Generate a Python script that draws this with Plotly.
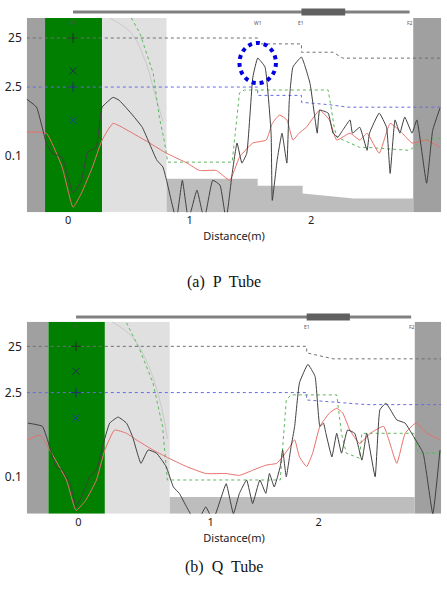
import plotly.graph_objects as go

# ---------------- Panel (a) P Tube ----------------
a_black_x = [-0.35,-0.26,-0.18,-0.13,-0.05,0.04,0.11,0.16,0.23,0.28,0.37,0.42,0.53,0.61,0.73,0.78,0.81,0.89,0.94,0.99,1.06,1.12,1.19,1.25,1.30,1.35,1.39,1.43,1.47,1.52,1.56,1.62,1.67,1.68,1.72,1.76,1.80,1.82,1.85,1.92,1.99,2.05,2.07,2.14,2.18,2.22,2.26,2.32,2.34,2.40,2.46,2.48,2.56,2.62,2.65,2.69,2.73,2.77,2.83,2.87,2.95,3.00,3.06]
a_black_y = [0.17,-0.01,-0.74,-0.95,-1.03,-1.76,-1.50,-0.93,-0.83,-0.01,0.19,0.13,-0.17,-0.42,-1.09,-1.23,-1.50,-2.3,-1.50,-2.3,-1.70,-2.3,-1.50,-1.60,-2.3,-1.36,-0.74,-1.15,-0.95,0.60,0.99,0.81,-0.54,-1.91,-1.09,-0.54,-1.15,0.13,0.81,1.01,0.48,-0.54,-0.07,-0.13,-0.54,-0.62,-0.48,-0.27,-0.54,-0.42,-0.89,-0.54,-0.13,-0.42,-1.36,-0.27,-0.54,-0.21,-0.54,-0.27,-1.56,-0.48,-0.03]
a_red_x = [-0.35,-0.18,-0.05,0.04,0.11,0.20,0.28,0.37,0.53,0.67,0.81,0.98,1.08,1.22,1.33,1.41,1.52,1.63,1.68,1.74,1.80,1.85,1.90,1.96,2.07,2.15,2.21,2.32,2.40,2.46,2.56,2.65,2.75,2.83,2.95,3.06]
a_red_y = [-0.52,-0.54,-1.23,-2.05,-1.76,-1.23,-0.68,-0.34,-0.54,-0.74,-0.95,-1.15,-1.30,-1.30,-1.50,-1.03,-0.74,-0.68,-0.34,-0.17,-0.27,-0.68,-0.54,-0.42,-0.07,-0.27,-0.68,-0.54,-0.68,-0.54,-0.95,-0.34,-0.54,-0.74,-0.68,-0.83]
a_green_x = [0.52,0.59,0.70,0.75,0.79,0.82,1.35,1.41,1.45,2.14,2.19,2.21,2.40,2.46,2.81,2.92,3.07]
a_green_y = [1.81,1.50,0.68,-0.21,-0.68,-1.13,-1.13,0.28,0.34,0.34,-0.42,-0.62,-0.83,-0.83,-0.89,-0.68,-0.64]
a_gray_x = [-0.34,1.56,1.56,1.92,1.92,2.18,2.26,3.07]
a_gray_y = [1.40,1.40,1.28,1.28,1.11,1.11,0.99,0.99]
a_blue_x = [-0.34,1.56,1.56,1.92,1.92,2.15,2.30,3.07]
a_blue_y = [0.40,0.40,0.23,0.23,0.09,0.04,-0.01,-0.01]
a_arc_x = [0.34,0.52,0.64,0.72,0.78]
a_arc_y = [1.81,1.50,0.90,0.20,-0.30]
a_floor_x = [0.81,1.56,1.56,1.93,1.93,2.35,2.84]
a_floor_top = [-1.47,-1.47,-1.61,-1.61,-1.77,-1.87,-1.87]
a_marker_y = [1.40,0.73,0.40,-0.28]
a_zones = [-0.34,-0.19,0.28,0.81,2.84,3.07]
a_range = [-2.15,1.81]
a_xrange = [-0.34,3.07]
a_ticks = [0,1,2]
a_bar = [0.04,2.81,1.92,2.28]
a_labels = [("P1",0.04),("W1",1.56),("E1",1.92),("F2",2.81)]

# ---------------- Panel (b) Q Tube ----------------
b_black_x = [-0.42,-0.30,-0.24,-0.19,-0.13,-0.06,-0.02,0.01,0.05,0.09,0.15,0.20,0.26,0.33,0.40,0.45,0.52,0.58,0.65,0.73,0.79,0.84,0.90,0.95,1.01,1.06,1.12,1.18,1.23,1.29,1.34,1.40,1.45,1.51,1.56,1.59,1.63,1.68,1.70,1.73,1.77,1.80,1.84,1.91,1.97,2.01,2.04,2.06,2.11,2.15,2.19,2.24,2.30,2.36,2.40,2.47,2.51,2.56,2.65,2.72,2.79,2.87,2.95,3.01]
b_black_y = [-0.26,-0.33,-0.77,-1.20,-1.28,-1.64,-2.07,-1.93,-1.71,-1.42,-1.28,-0.77,-0.26,-0.13,-0.26,-0.55,-1.13,-0.84,-0.91,-1.20,-1.64,-1.78,-2.07,-2.29,-2.29,-2.07,-2.36,-1.93,-1.57,-2.22,-1.78,-1.49,-2.00,-1.49,-1.78,-1.35,-1.64,-1.20,-0.84,-1.42,-0.77,-0.33,0.61,1.01,0.75,-0.33,-0.26,-0.48,-0.99,-0.48,-0.91,-0.41,-0.48,-1.06,-0.48,-1.42,0.03,0.17,-0.19,-0.26,-0.55,-0.91,-2.22,-0.84]
b_red_x = [-0.42,-0.32,-0.24,-0.10,-0.02,0.06,0.15,0.22,0.30,0.40,0.48,0.62,0.73,0.90,1.06,1.23,1.34,1.45,1.56,1.65,1.70,1.76,1.80,1.84,1.90,1.95,2.01,2.09,2.15,2.20,2.26,2.34,2.43,2.54,2.65,2.72,2.81,2.90,3.01]
b_red_y = [-0.62,-0.52,-0.84,-1.49,-2.15,-1.93,-1.49,-0.84,-0.41,-0.48,-0.62,-0.84,-0.99,-1.20,-1.35,-1.35,-1.39,-1.28,-1.17,-1.13,-0.99,-0.77,-0.62,-0.99,-1.20,-0.91,-0.33,-0.04,0.06,-0.04,-0.41,-0.70,-0.48,-0.33,-1.13,-0.48,-0.26,-0.48,-0.62]
b_green_x = [0.40,0.51,0.62,0.70,0.74,1.68,1.73,1.77,2.15,2.19,2.23,2.34,2.36,2.79,2.83,3.02]
b_green_y = [1.91,1.33,0.61,-0.33,-1.49,-1.49,0.24,0.35,0.35,-0.48,-0.91,-1.02,-0.48,-0.48,-0.91,-0.91]
b_gray_x = [-0.43,1.90,1.90,2.12,3.02]
b_gray_y = [1.40,1.40,1.26,1.13,1.13]
b_blue_x = [-0.43,1.90,1.90,2.40,3.02]
b_blue_y = [0.40,0.40,0.24,0.14,0.14]
b_arc_x = [0.28,0.45,0.58,0.68,0.74]
b_arc_y = [1.93,1.60,1.00,0.20,-0.60]
b_floor_x = [0.76,2.80]
b_floor_top = [-1.86,-1.86]
b_marker_y = [1.40,0.86,0.40,-0.15]
b_zones = [-0.43,-0.25,0.22,0.76,2.80,3.02]
b_range = [-2.22,1.93]
b_xrange = [-0.43,3.02]
b_ticks = [0,1.1,2]
b_bar = [-0.02,2.77,1.90,2.26]
b_labels = [("P1",-0.02),("E1",1.90),("F2",2.78)]

ytick_vals = {"a": [1.398,0.398,-1.0], "b": [1.398,0.398,-1.43]}
ytick_text = ["25","2.5","0.1"]
xtick_text = ["0","1","2"]

fig = go.Figure()
panels = [
    ("a", "x", "y", 0.644, 0.970, a_black_x, a_black_y, a_red_x, a_red_y, a_green_x, a_green_y,
     a_gray_x, a_gray_y, a_blue_x, a_blue_y, a_arc_x, a_arc_y, a_floor_x, a_floor_top, a_marker_y,
     a_zones, a_range, a_xrange, a_ticks, a_bar, a_labels, 0.980, "(a)  P  Tube", 0.527),
    ("b", "x2", "y2", 0.138, 0.460, b_black_x, b_black_y, b_red_x, b_red_y, b_green_x, b_green_y,
     b_gray_x, b_gray_y, b_blue_x, b_blue_y, b_arc_x, b_arc_y, b_floor_x, b_floor_top, b_marker_y,
     b_zones, b_range, b_xrange, b_ticks, b_bar, b_labels, 0.468, "(b)  Q  Tube", 0.030),
]

for (key, xa, ya, d0, d1, bx, by, rx, ry, gx, gy, grx, gry, blx, bly, arx, ary, fx, ft, my,
     zones, yr, xr, ticks, bar, labels, bary, caption, capy) in panels:
    zcol = ["#a0a0a0", "#007f00", "#e0e0e0", None, "#a0a0a0"]
    for i, c in enumerate(zcol):
        if c:
            fig.add_shape(type="rect", xref=xa, yref=ya, x0=zones[i], x1=zones[i+1],
                          y0=yr[0], y1=yr[1], fillcolor=c, line_width=0, layer="below")
    fig.add_trace(go.Scatter(x=[fx[0]] + fx + [fx[-1]], y=[yr[0]] + ft + [yr[0]], fill="toself",
                             fillcolor="#bdbdbd", line=dict(width=0), mode="lines",
                             xaxis=xa, yaxis=ya, hoverinfo="skip"))
    fig.add_trace(go.Scatter(x=arx, y=ary, mode="lines", line=dict(color="#c8c8c8", width=1, shape="spline"),
                             xaxis=xa, yaxis=ya))
    fig.add_trace(go.Scatter(x=grx, y=gry, mode="lines", line=dict(color="#707070", width=1, dash="dot"),
                             xaxis=xa, yaxis=ya))
    fig.add_trace(go.Scatter(x=blx, y=bly, mode="lines", line=dict(color="#6a6ae0", width=1, dash="dot"),
                             xaxis=xa, yaxis=ya))
    fig.add_trace(go.Scatter(x=gx, y=gy, mode="lines", line=dict(color="#5cb85c", width=1, dash="dot"),
                             xaxis=xa, yaxis=ya))
    fig.add_trace(go.Scatter(x=rx, y=ry, mode="lines", line=dict(color="#e8706a", width=1, shape="spline", smoothing=0.4),
                             xaxis=xa, yaxis=ya))
    fig.add_trace(go.Scatter(x=bx, y=by, mode="lines", line=dict(color="#404040", width=1, shape="spline", smoothing=0.35),
                             xaxis=xa, yaxis=ya))
    mx = labels[0][1]
    fig.add_trace(go.Scatter(x=[mx]*4, y=my, mode="markers",
                             marker=dict(symbol=["cross-thin", "x-thin", "cross-thin", "x-thin"], size=7,
                                         line=dict(width=1, color=["#203020", "#203050", "#203070", "#2040a0"])),
                             xaxis=xa, yaxis=ya))
    fig.add_shape(type="line", xref=xa, yref="paper", x0=bar[0], x1=bar[1], y0=bary, y1=bary,
                  line=dict(color="#808080", width=3))
    fig.add_shape(type="line", xref=xa, yref="paper", x0=bar[2], x1=bar[3], y0=bary, y1=bary,
                  line=dict(color="#606060", width=7))
    for t, lx in labels:
        fig.add_annotation(x=lx, y=yr[1], xref=xa, yref=ya, text=t, showarrow=False,
                           yanchor="top", font=dict(size=5, color="#555"))
    fig.add_annotation(x=0.5, y=capy, xref="paper", yref="paper", text=caption, showarrow=False,
                       font=dict(family="Liberation Serif", size=16, color="#111"))
    xname = "xaxis" if xa == "x" else "xaxis2"
    yname = "yaxis" if ya == "y" else "yaxis2"
    fig.layout[xname] = dict(domain=[0.060, 0.987], range=xr, tickvals=ticks, ticktext=xtick_text,
                             showgrid=False, zeroline=False, showline=False, ticks="", automargin=False,
                             title=dict(text="Distance(m)", font=dict(size=11), standoff=6),
                             anchor=ya, tickfont=dict(size=11))
    fig.layout[yname] = dict(domain=[d0, d1], range=yr, tickvals=ytick_vals[key], ticktext=ytick_text,
                             showgrid=False, zeroline=False, showline=False, ticks="", automargin=False,
                             anchor=xa, tickfont=dict(size=12), ticklabelstandoff=4)

fig.add_shape(type="circle", xref="x", yref="y", x0=1.41, x1=1.71, y0=0.48, y1=1.30,
              line=dict(color="#0000e0", width=4, dash="dot"))

fig.update_layout(width=447, height=596, margin=dict(l=0, r=0, t=0, b=0),
                  paper_bgcolor="white", plot_bgcolor="white", showlegend=False,
                  font=dict(family="Noto Sans", color="#222"))
fig.write_html("out.html", config={"displayModeBar": False},
               post_script="document.body.style.margin='0';document.body.style.overflow='hidden';")
